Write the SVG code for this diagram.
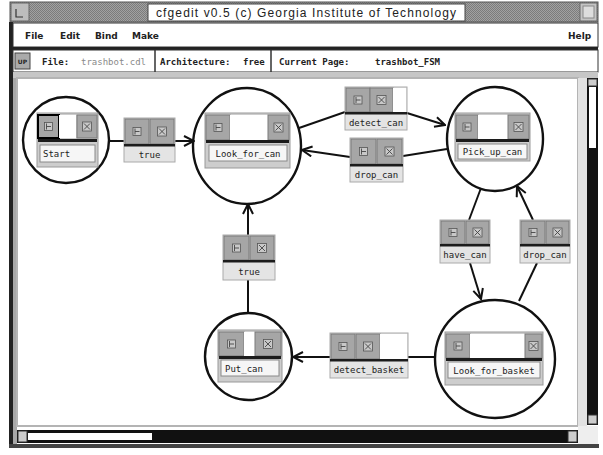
<svg xmlns="http://www.w3.org/2000/svg" width="603" height="455" viewBox="0 0 603 455">
<style>
.edge{fill:none;stroke:#111;stroke-width:2}
.state{fill:none;stroke:#111;stroke-width:2.4}
.frame{fill:#cdcdcd;stroke:#999;stroke-width:1}
.tframe{fill:#e4e4e4;stroke:#aaa;stroke-width:1}
.btn{fill:#a6a6a6;stroke:#7a7a7a;stroke-width:1}
.wht{fill:#fff}
.bar{fill:#1c1c1c}
.lbl{fill:#f6f6f6;stroke:#8a8a8a;stroke-width:1}
.t{font-family:"DejaVu Sans Mono","Liberation Mono",monospace;font-size:9px;fill:#222;text-anchor:middle}
.m{font-family:"DejaVu Sans","Liberation Sans",sans-serif;font-size:9px;font-weight:bold;fill:#222}
.s{font-family:"DejaVu Sans Mono","Liberation Mono",monospace;font-size:9px;font-weight:bold;fill:#222}
.ttl{font-family:"Liberation Sans","DejaVu Sans",sans-serif;font-size:12px;fill:#222}
.ic{fill:#c8c8c8;stroke:#555;stroke-width:0.8}
.il{fill:none;stroke:#444;stroke-width:0.9}
</style>
<defs>
<pattern id="stip" width="2" height="2" patternUnits="userSpaceOnUse">
<rect width="2" height="2" fill="#a2a2a2"/>
<rect width="1" height="1" fill="#7c7c7c"/>
<rect x="1" y="1" width="1" height="1" fill="#7c7c7c"/>
</pattern>
<marker id="arr" viewBox="0 0 12 12" refX="11" refY="6" markerWidth="12" markerHeight="12" markerUnits="userSpaceOnUse" orient="auto">
<path d="M1,1 L11,6 L1,11" fill="none" stroke="#111" stroke-width="2"/>
</marker>
<g id="ie"><rect class="ic" x="-4" y="-4" width="8" height="8"/><path class="il" d="M-2,-3 V3 M-2,0 H2.5"/></g>
<g id="ix"><rect class="ic" x="-4.5" y="-4.5" width="9" height="9"/><path class="il" d="M-3,-3 L3,3 M3,-3 L-3,3"/></g>
</defs>

<!-- window chrome -->
<g id="chrome">
<rect x="0" y="0" width="603" height="455" fill="#fff"/>
<rect x="10" y="2" width="588" height="20" fill="url(#stip)" stroke="#555"/>
<rect x="11" y="3" width="18" height="18" fill="#bdbdbd" stroke="#666"/>
<path d="M16,9 V17 H23" fill="none" stroke="#333" stroke-width="1.2"/>
<rect x="580" y="3" width="17" height="18" fill="#c4c4c4" stroke="#666"/>
<rect x="583" y="6" width="11" height="12" fill="#ddd" stroke="#888"/>
<rect x="148" y="4" width="317" height="17" fill="#fff" stroke="#444"/>
<text class="ttl" x="306" y="17" text-anchor="middle" textLength="300">cfgedit  v0.5  (c) Georgia Institute of Technology</text>
<rect x="9" y="22" width="4" height="426" fill="#222"/>
<rect x="13" y="22" width="4" height="426" fill="#a8a8a8"/>
<rect x="13" y="23" width="585" height="24" fill="#fff" stroke="#333"/>
<text class="m" x="25" y="39">File</text>
<text class="m" x="60" y="39">Edit</text>
<text class="m" x="95" y="39">Bind</text>
<text class="m" x="132" y="39">Make</text>
<text class="m" x="568" y="39">Help</text>
<rect x="13" y="47" width="585" height="3" fill="#222"/>
<rect x="13" y="50" width="585" height="22" fill="#fff" stroke="#333"/>
<rect x="15" y="53" width="15" height="16" fill="#aaa" stroke="#444"/>
<text x="22.5" y="64" text-anchor="middle" font-family="DejaVu Sans, sans-serif" font-size="6" font-weight="bold" fill="#222">UP</text>
<line x1="155" y1="50" x2="155" y2="72" stroke="#333" stroke-width="1.5"/>
<line x1="271" y1="50" x2="271" y2="72" stroke="#333" stroke-width="1.5"/>
<text class="s" x="42" y="65">File:</text>
<text class="s" x="81" y="65" style="fill:#8a8a8a;font-weight:normal">trashbot.cdl</text>
<text class="s" x="160" y="65">Architecture:</text>
<text class="s" x="243" y="65">free</text>
<text class="s" x="279" y="65">Current Page:</text>
<text class="s" x="375" y="65">trashbot_FSM</text>
<rect x="13" y="72" width="585" height="6" fill="#c6c6c6"/>
<rect x="17" y="78" width="561" height="348" fill="#fff" stroke="#b4b4b4" stroke-width="2"/>
<rect x="578" y="78" width="9" height="350" fill="#e2e2e2"/>
<rect x="587" y="78" width="11" height="347" fill="#111"/>
<rect x="588" y="79" width="9" height="7" fill="#ccc" stroke="#333"/>
<rect x="589" y="87" width="7" height="61" fill="#fff"/>
<rect x="588" y="415" width="9" height="9" fill="#ccc" stroke="#333"/>
<rect x="17" y="430" width="561" height="13" fill="#111"/>
<rect x="18" y="431" width="9" height="11" fill="#ccc" stroke="#333"/>
<rect x="28" y="433" width="124" height="7" fill="#fff"/>
<rect x="568" y="431" width="9" height="11" fill="#ccc" stroke="#333"/>
<rect x="9" y="444" width="590" height="4" fill="#444"/>
<rect x="578" y="426" width="20" height="18" fill="#eee"/>
</g>

<!-- connectors -->
<g id="connectors">
<path class="edge" d="M109,141 L124,141"/>
<path class="edge" d="M175,141 L194,141" marker-end="url(#arr)"/>
<path class="edge" d="M299,128 L345,112"/>
<path class="edge" d="M407,113 L445,125" marker-end="url(#arr)"/>
<path class="edge" d="M447,149 L403,156"/>
<path class="edge" d="M350,157 L302,150" marker-end="url(#arr)"/>
<path class="edge" d="M481,188 L469,220"/>
<path class="edge" d="M470,263 L481,299" marker-end="url(#arr)"/>
<path class="edge" d="M519,301 L537,263"/>
<path class="edge" d="M533,220 L517,186" marker-end="url(#arr)"/>
<path class="edge" d="M435,357 L408,357"/>
<path class="edge" d="M330,357 L293,357" marker-end="url(#arr)"/>
<path class="edge" d="M248,313 L248,280"/>
<path class="edge" d="M248,235 L248,204" marker-end="url(#arr)"/>
</g>

<!-- states -->
<g id="state-start">
<ellipse class="state" cx="66" cy="140" rx="43" ry="43"/>
<rect class="frame" x="37" y="113" width="61" height="54"/>
<rect class="btn" x="38" y="115" width="21" height="23" style="stroke:#000;stroke-width:2"/>
<rect class="wht" x="59" y="115" width="17" height="23"/>
<rect class="btn" x="77" y="115" width="20" height="23"/>
<use href="#ie" x="48.5" y="126.5"/>
<use href="#ix" x="87" y="126.5"/>
<rect class="bar" x="38" y="139" width="59" height="3"/>
<rect class="lbl" x="40" y="145" width="55" height="17"/>
<text class="t" x="43" y="157" style="text-anchor:start">Start</text>
</g>

<g id="state-look_for_can">
<ellipse class="state" cx="247" cy="146" rx="54" ry="58"/>
<rect class="frame" x="205" y="113" width="85" height="55"/>
<rect class="btn" x="206" y="115" width="24" height="25"/>
<rect class="wht" x="230" y="115" width="38" height="25"/>
<rect class="btn" x="268" y="115" width="21" height="25"/>
<use href="#ie" x="218" y="127.5"/>
<use href="#ix" x="278.5" y="127.5"/>
<rect class="bar" x="206" y="140" width="83" height="3"/>
<rect class="lbl" x="209" y="145" width="78" height="16"/>
<text class="t" x="248" y="156.5">Look_for_can</text>
</g>

<g id="state-pick_up_can">
<ellipse class="state" cx="495" cy="139" rx="48" ry="52"/>
<rect class="frame" x="455" y="113" width="75" height="48"/>
<rect class="btn" x="456" y="115" width="22" height="24"/>
<rect class="wht" x="478" y="115" width="30" height="24"/>
<rect class="btn" x="508" y="115" width="21" height="24"/>
<use href="#ie" x="467" y="127"/>
<use href="#ix" x="518.5" y="127"/>
<rect class="bar" x="456" y="139" width="73" height="3"/>
<rect class="lbl" x="458" y="144" width="69" height="15"/>
<text class="t" x="492.5" y="155">Pick_up_can</text>
</g>

<g id="state-look_for_basket">
<ellipse class="state" cx="495" cy="359" rx="60" ry="59"/>
<rect class="frame" x="445" y="332" width="98" height="53"/>
<rect class="btn" x="446" y="334" width="24" height="24"/>
<rect class="wht" x="470" y="334" width="55" height="24"/>
<rect class="btn" x="525" y="334" width="17" height="24"/>
<use href="#ie" x="458" y="346"/>
<use href="#ix" x="533.5" y="346"/>
<rect class="bar" x="446" y="358" width="96" height="3"/>
<rect class="lbl" x="448" y="362" width="92" height="16"/>
<text class="t" x="494" y="373.5">Look_for_basket</text>
</g>

<g id="state-put_can">
<ellipse class="state" cx="248.5" cy="356.5" rx="43.5" ry="43.5"/>
<rect class="frame" x="218" y="330" width="64" height="52"/>
<rect class="btn" x="219" y="332" width="25" height="24"/>
<rect class="wht" x="244" y="332" width="11" height="24"/>
<rect class="btn" x="255" y="332" width="26" height="24"/>
<use href="#ie" x="231.5" y="344"/>
<use href="#ix" x="268" y="344"/>
<rect class="bar" x="219" y="356" width="62" height="3"/>
<rect class="lbl" x="221" y="360" width="58" height="16"/>
<text class="t" x="225" y="371.5" style="text-anchor:start">Put_can</text>
</g>

<!-- transitions -->
<g id="trans-true-1">
<rect class="tframe" x="124" y="118" width="51" height="44"/>
<rect class="btn" x="125" y="119" width="24" height="25"/>
<rect class="btn" x="150" y="119" width="24" height="25"/>
<use href="#ie" x="137" y="131.5"/>
<use href="#ix" x="162" y="131.5"/>
<rect class="bar" x="124" y="144" width="51" height="2.5"/>
<text class="t" x="149.5" y="158">true</text>
</g>

<g id="trans-detect_can">
<rect class="tframe" x="345" y="87" width="62" height="43"/>
<rect class="btn" x="346" y="88" width="24" height="24"/>
<rect class="btn" x="370" y="88" width="23" height="24"/>
<rect class="wht" x="393" y="88" width="13" height="24"/>
<use href="#ie" x="358" y="100"/>
<use href="#ix" x="381.5" y="100"/>
<rect class="bar" x="345" y="112" width="62" height="2.5"/>
<text class="t" x="376" y="126">detect_can</text>
</g>

<g id="trans-drop_can-1">
<rect class="tframe" x="350" y="138" width="53" height="44"/>
<rect class="btn" x="351" y="139" width="25" height="25"/>
<rect class="btn" x="377" y="139" width="25" height="25"/>
<use href="#ie" x="363.5" y="151.5"/>
<use href="#ix" x="389.5" y="151.5"/>
<rect class="bar" x="350" y="164" width="53" height="2.5"/>
<text class="t" x="376.5" y="178">drop_can</text>
</g>

<g id="trans-true-2">
<rect class="tframe" x="223" y="235" width="52" height="45"/>
<rect class="btn" x="224" y="236" width="25" height="24"/>
<rect class="btn" x="250" y="236" width="24" height="24"/>
<use href="#ie" x="236.5" y="248"/>
<use href="#ix" x="262" y="248"/>
<rect class="bar" x="223" y="260" width="52" height="2.5"/>
<text class="t" x="249" y="275">true</text>
</g>

<g id="trans-have_can">
<rect class="tframe" x="440" y="220" width="50" height="43"/>
<rect class="btn" x="441" y="221" width="24" height="23"/>
<rect class="btn" x="466" y="221" width="23" height="23"/>
<use href="#ie" x="453" y="232.5"/>
<use href="#ix" x="477.5" y="232.5"/>
<rect class="bar" x="440" y="244" width="50" height="2.5"/>
<text class="t" x="465" y="258">have_can</text>
</g>

<g id="trans-drop_can-2">
<rect class="tframe" x="520" y="220" width="50" height="43"/>
<rect class="btn" x="521" y="221" width="24" height="23"/>
<rect class="btn" x="546" y="221" width="23" height="23"/>
<use href="#ie" x="533" y="232.5"/>
<use href="#ix" x="557.5" y="232.5"/>
<rect class="bar" x="520" y="244" width="50" height="2.5"/>
<text class="t" x="545" y="258">drop_can</text>
</g>

<g id="trans-detect_basket">
<rect class="tframe" x="330" y="333" width="78" height="45"/>
<rect class="btn" x="331" y="334" width="24" height="25"/>
<rect class="btn" x="356" y="334" width="24" height="25"/>
<rect class="wht" x="380" y="334" width="27" height="25"/>
<use href="#ie" x="343" y="346.5"/>
<use href="#ix" x="368" y="346.5"/>
<rect class="bar" x="330" y="359" width="78" height="2.5"/>
<text class="t" x="369" y="373">detect_basket</text>
</g>
</svg>
